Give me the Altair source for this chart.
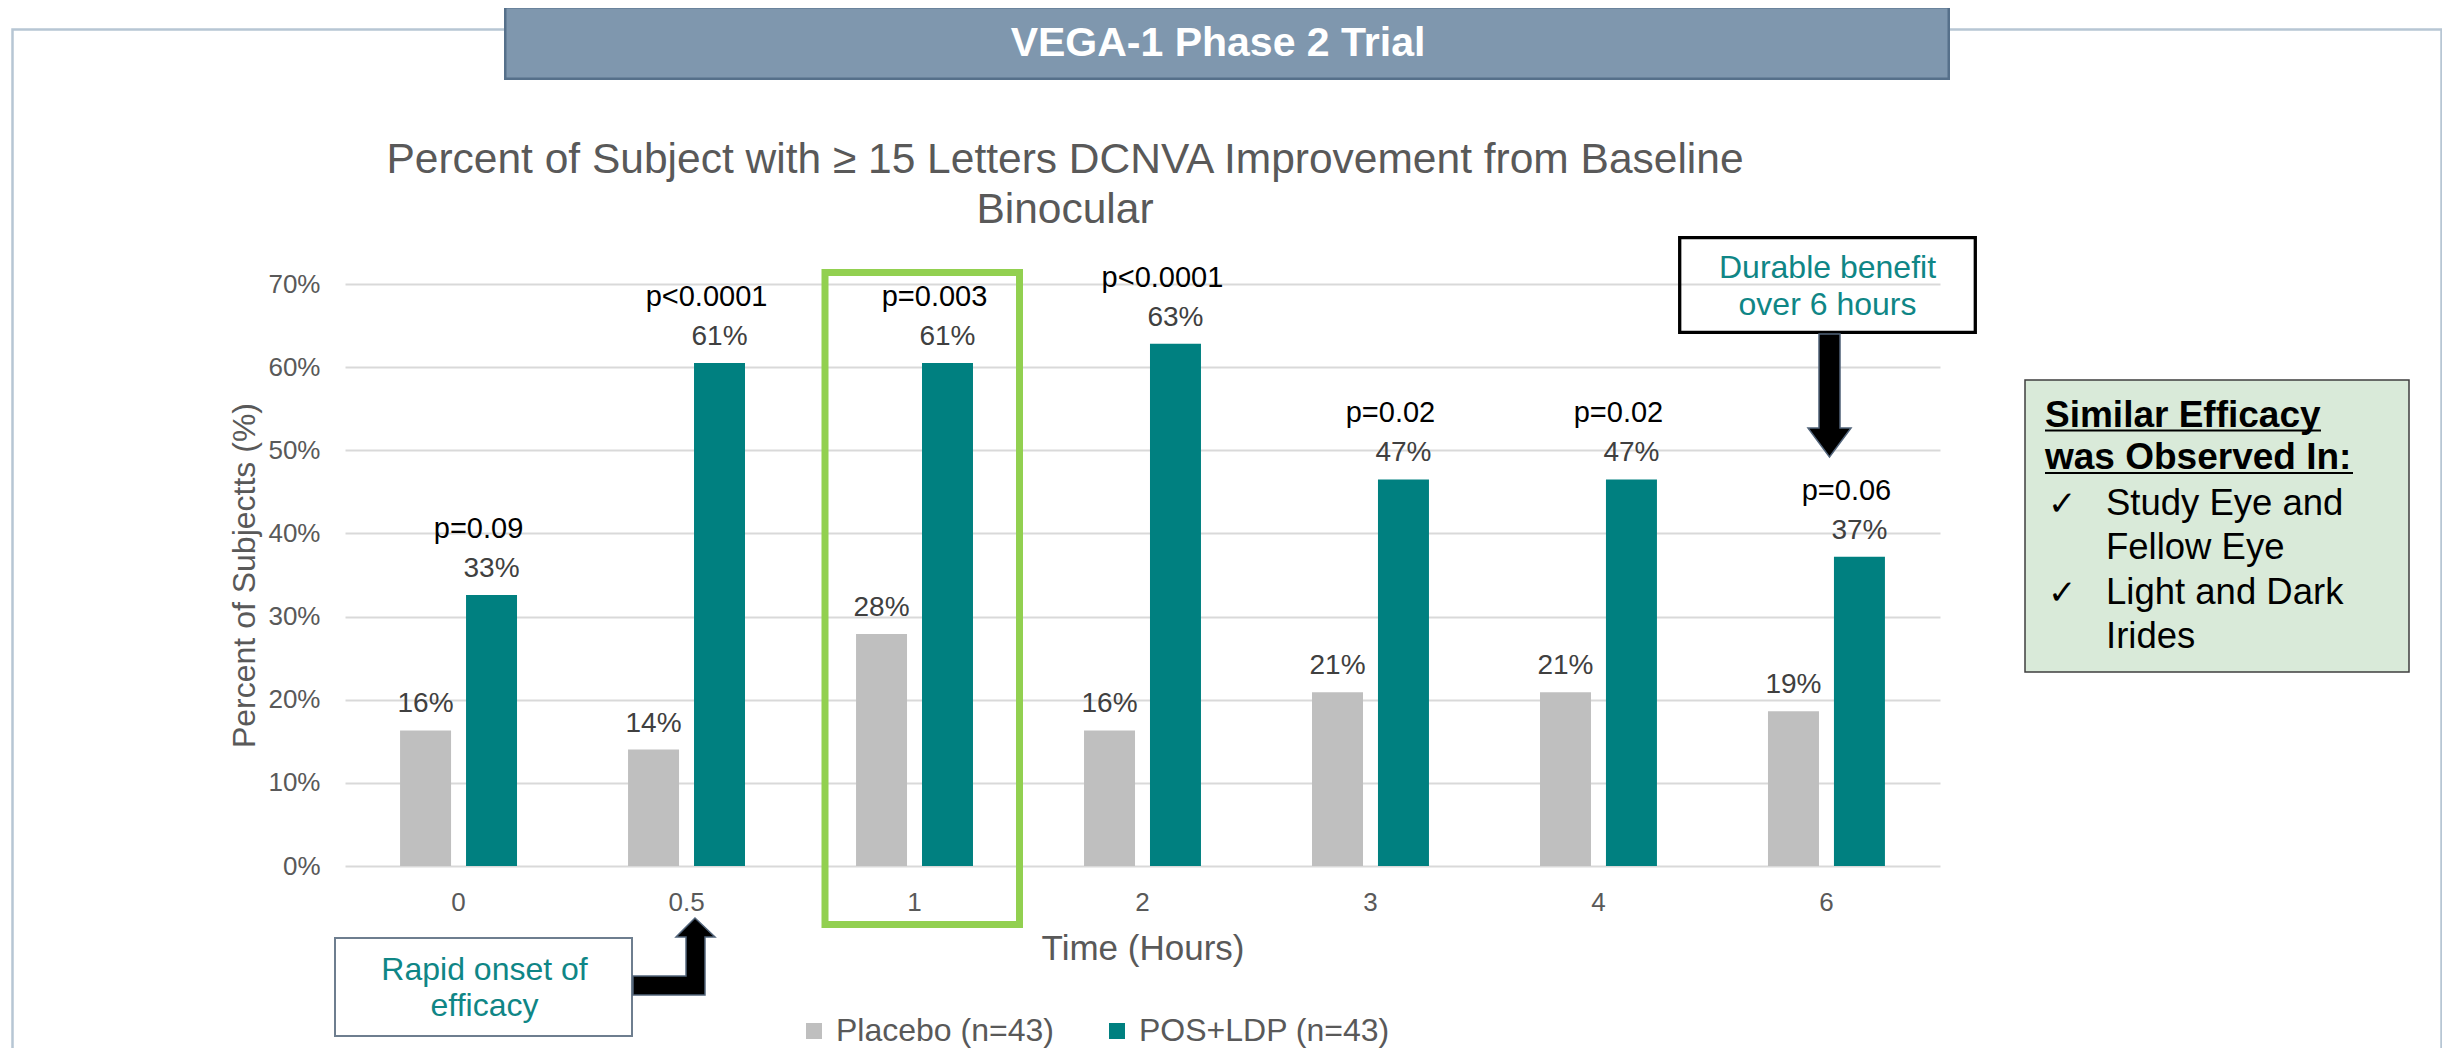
import altair as alt
import pandas as pd

FONT = "Liberation Sans, Arial, Helvetica, sans-serif"

# ---------------- data ----------------
times = ["0", "0.5", "1", "2", "3", "4", "6"]
series_names = ["Placebo (n=43)", "POS+LDP (n=43)"]
series_colors = ["#BFBFBF", "#008080"]
placebo = [16.3, 14.0, 27.9, 16.3, 20.9, 20.9, 18.6]
pos_ldp = [32.6, 60.5, 60.5, 62.8, 46.5, 46.5, 37.2]
placebo_labels = ["16%", "14%", "28%", "16%", "21%", "21%", "19%"]
pos_ldp_labels = ["33%", "61%", "61%", "63%", "47%", "47%", "37%"]
p_values = ["p=0.09", "p<0.0001", "p=0.003", "p<0.0001", "p=0.02", "p=0.02", "p=0.06"]
y_ticks = [0, 10, 20, 30, 40, 50, 60, 70]

banner_title = ["VEGA-1 Phase 2 Trial"]
chart_title = ["Percent of Subject with \u2265 15 Letters DCNVA Improvement from Baseline", "Binocular"]
y_title = "Percent of Subjectts (%)"
x_title = "Time (Hours)"
rapid_text = ["Rapid onset of", "efficacy"]
durable_text = ["Durable benefit", "over 6 hours"]
box_heading = ["Similar Efficacy", "was Observed In:"]
box_items = ["Study Eye and", "Fellow Eye", "Light and Dark", "Irides"]
check_mark = "\u2713"
checked_item_rows = [0, 2]   # item lines that start a bullet

rows = []
for t, v, l in zip(times, placebo, placebo_labels):
    rows.append({"time": t, "series": series_names[0], "value": v, "label": l})
for t, v, l in zip(times, pos_ldp, pos_ldp_labels):
    rows.append({"time": t, "series": series_names[1], "value": v, "label": l})
df = pd.DataFrame(rows)
pdf = pd.DataFrame({"time": times, "series": series_names[1], "value": pos_ldp, "p": p_values})

# ---------------- encodings ----------------
x_enc = alt.X(
    "time:N", sort=times,
    scale=alt.Scale(domain=times, paddingInner=0.487, paddingOuter=0.2415),
    axis=alt.Axis(
        title=x_title, labelAngle=0, ticks=False, domain=False, grid=False,
        labelFont=FONT, labelFontSize=26, labelColor="#595959", labelPadding=23,
        titleFont=FONT, titleFontSize=35, titleFontWeight="normal", titleColor="#595959",
        titleY=93, titleBaseline="alphabetic",
    ),
)
xo_enc = alt.XOffset(
    "series:N", sort=series_names,
    scale=alt.Scale(domain=series_names, paddingInner=0.227, paddingOuter=0),
)
y_enc = alt.Y(
    "value:Q",
    scale=alt.Scale(domain=[0, 70], nice=False, zero=True),
    axis=alt.Axis(
        values=y_ticks, labelExpr="datum.value + '%'", title=y_title,
        grid=True, gridColor="#D9D9D9", gridWidth=2, domain=False, ticks=False,
        labelFont=FONT, labelFontSize=26, labelColor="#595959", labelPadding=25,
        titleFont=FONT, titleFontSize=32, titleFontWeight="normal", titleColor="#595959",
        titleX=-101, titleY=291, titleBaseline="middle", titleAlign="center",
    ),
)
color_enc = alt.Color(
    "series:N", sort=series_names,
    scale=alt.Scale(domain=series_names, range=series_colors),
    legend=alt.Legend(
        title=None, orient="none", legendX=453, legendY=731, direction="horizontal",
        symbolType="square", symbolSize=256, symbolStrokeWidth=0, symbolOpacity=1,
        labelFont=FONT, labelFontSize=32, labelColor="#595959", labelOffset=6,
        columnPadding=47, labelLimit=600, padding=0, gridAlign="each",
    ),
)

bars = alt.Chart(df).mark_bar().encode(x=x_enc, xOffset=xo_enc, y=y_enc, color=color_enc)
vals = alt.Chart(df).mark_text(
    font=FONT, fontSize=28, color="#404040", baseline="alphabetic", dy=-18
).encode(x=x_enc, xOffset=xo_enc, y=y_enc, text="label:N")
pvals = alt.Chart(pdf).mark_text(
    font=FONT, fontSize=29, color="#000000", baseline="alphabetic", dy=-57, dx=-13
).encode(x=x_enc, xOffset=xo_enc, y=y_enc, text="p:N")


# ---------------- annotation helpers ----------------
def text_layer(lines, x, y, **kw):
    d = pd.DataFrame({"t": ["\n".join(lines)]})
    return alt.Chart(d).mark_text(lineBreak="\n", font=FONT, **kw).encode(
        x=alt.value(x), y=alt.value(y), text="t:N")


def rect_layer(x, x2, y, y2, **kw):
    d = pd.DataFrame({"k": [0]})
    return alt.Chart(d).mark_rect(**kw).encode(
        x=alt.value(x), x2=alt.value(x2), y=alt.value(y), y2=alt.value(y2))


def rule_layer(x, x2, y, **kw):
    d = pd.DataFrame({"k": [0]})
    return alt.Chart(d).mark_rule(**kw).encode(x=alt.value(x), x2=alt.value(x2), y=alt.value(y))


def shape_layer(path, size, x, y, **kw):
    d = pd.DataFrame({"k": [0]})
    return alt.Chart(d).mark_point(shape=path, size=size, filled=True, opacity=1, **kw).encode(
        x=alt.value(x), y=alt.value(y))


frame = rect_layer(-332.5, 2096.5, -254.5, 800, fill="transparent", stroke="#B7C6D4", strokeWidth=2.5)
banner = rect_layer(160.25, 1603.75, -276.75, -205.25, fill="#7F97AE", stroke="#56708A", strokeWidth=2.5)
banner_txt = text_layer(banner_title, 873, -240, fontSize=41, fontWeight="bold", color="#FFFFFF",
                        align="center", baseline="middle")
title_txt = text_layer(chart_title, 720, -111, fontSize=42.5, color="#595959", align="center",
                       baseline="alphabetic", lineHeight=50)

highlight = rect_layer(480, 674.5, -11.5, 640.5, fill="transparent", stroke="#92D050", strokeWidth=7)

durable_box = rect_layer(1334.7, 1630.3, -46.3, 48.3, fill="transparent", stroke="#000000", strokeWidth=3.3)
durable_txt = text_layer(durable_text, 1482.5, -6, fontSize=32, color="#0F8686", align="center",
                         baseline="alphabetic", lineHeight=37)
down_arrow = shape_layer(
    "M-0.171,-1L0.171,-1L0.171,0.528L0.35,0.528L0,1L-0.35,0.528L-0.171,0.528Z",
    15129, 1484.5, 111.5, fill="#000000", stroke="#52647A", strokeWidth=1.5)

rapid_box = rect_layer(-10, 287, 654, 752, fill="#FFFFFF", stroke="#6E7E8F", strokeWidth=2)
rapid_txt = text_layer(rapid_text, 139.5, 696, fontSize=32, color="#0F8686", align="center",
                       baseline="alphabetic", lineHeight=36)
elbow_arrow = shape_layer(
    "M-1,0.476L0.293,0.476L0.293,-0.476L0.049,-0.476L0.512,-0.939L1,-0.476"
    "L0.756,-0.476L0.756,0.939L-1,0.939Z",
    6724, 329, 672.5, fill="#000000", stroke="#52647A", strokeWidth=1.5)

green_box = rect_layer(1680, 2064, 96, 388, fill="#D9EAD9", stroke="#3F3F3F", strokeWidth=1.5)
heading_txt = text_layer(box_heading, 1700, 143, fontSize=37, fontWeight="bold", color="#000000",
                         align="left", baseline="alphabetic", lineHeight=42)
underline1 = rule_layer(1700, 1976, 146.5, color="#000000", strokeWidth=2)
underline2 = rule_layer(1700, 2008, 189, color="#000000", strokeWidth=2)
ITEM_LH = 44.3
items_txt = text_layer(box_items, 1761, 231, fontSize=36.5, color="#000000", align="left",
                       baseline="alphabetic", lineHeight=ITEM_LH)
check_layers = [
    text_layer([check_mark], 1703, 231 + r * ITEM_LH, fontSize=34, color="#000000",
               align="left", baseline="alphabetic")
    for r in checked_item_rows
]

chart = alt.layer(
    frame, banner, banner_txt, title_txt,
    bars, vals, pvals, highlight,
    durable_box, durable_txt, down_arrow,
    rapid_box, rapid_txt, elbow_arrow,
    green_box, heading_txt, underline1, underline2, items_txt, *check_layers,
).properties(
    width=1595, height=582,
    padding={"left": 337, "top": 276, "right": 502, "bottom": 182},
    autosize=alt.AutoSizeParams(type="none"),
    background="#FFFFFF",
).configure_view(stroke=None)

chart.save("out.html", embed_options={"renderer": "svg", "actions": False})
